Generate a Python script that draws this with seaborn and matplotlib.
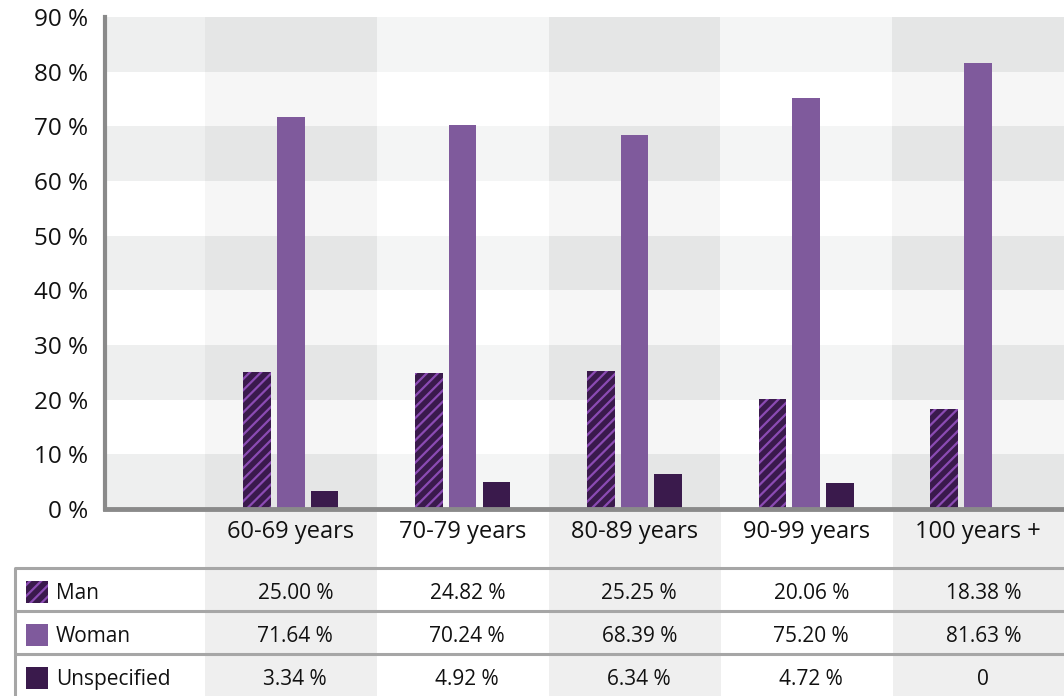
import matplotlib
matplotlib.use("Agg")
import matplotlib.pyplot as plt
import seaborn as sns
import pandas as pd
import numpy as np

# ---- data ---------------------------------------------------------------
age_groups = ["60-69 years", "70-79 years", "80-89 years", "90-99 years", "100 years +"]
genders = ["Man", "Woman", "Unspecified"]
man = [25.00, 24.82, 25.25, 20.06, 18.38]
woman = [71.64, 70.24, 68.39, 75.20, 81.63]
unspecified = [3.34, 4.92, 6.34, 4.72, 0.0]
y_ticks = [0, 10, 20, 30, 40, 50, 60, 70, 80, 90]

colors = {"Man": "#3a1a4c", "Woman": "#7f5a9c", "Unspecified": "#3a1a4c"}
hatch_color = "#8b4bb3"
axis_grey = "#8a8a8a"

df = pd.DataFrame({
    "age": np.repeat(age_groups, len(genders)),
    "gender": genders * len(age_groups),
    "share": [v for trio in zip(man, woman, unspecified) for v in trio],
})

sns.set_theme(style="white")
plt.rcParams["font.family"] = ["Open Sans", "DejaVu Sans"]
plt.rcParams["hatch.linewidth"] = 1.6

W, H = 1064, 696
fig = plt.figure(figsize=(W / 100, H / 100), dpi=100)
fig.patch.set_facecolor("white")

# category columns are 172 px wide; first column starts at x=205 px
col_px = 172.0
x0_px = 205.0
def px_to_x(px):
    return -0.5 + (px - x0_px) / col_px

ax_left, ax_right = 105, 1063
ax_top, ax_bottom = 17, 509

# ---- lower strip: category labels and the value table ------------------
low = fig.add_axes([0, 0, 1, 1 - ax_bottom / H], zorder=0)
low.set_xlim(px_to_x(0), px_to_x(W))
low.set_ylim(H, ax_bottom)
low.axis("off")
for i in range(len(age_groups)):
    if i % 2 == 0:
        low.axvspan(i - 0.5, i + 0.5, color="#efefef", lw=0, zorder=0)

row_tops = [568, 611, 654]
table_left = px_to_x(15)
for yy in row_tops:
    low.plot([table_left, px_to_x(W)], [yy, yy], color="#a6a6a6", lw=2.2,
             solid_capstyle="butt", zorder=2)
low.plot([table_left, table_left], [row_tops[0], H], color="#a6a6a6", lw=2.2, zorder=2)

series = [man, woman, unspecified]
for r, (name, vals) in enumerate(zip(genders, series)):
    yc = row_tops[r] + 25
    sw = plt.Rectangle((px_to_x(26), yc - 12), 22 / col_px, 22,
                       facecolor=colors[name], edgecolor=hatch_color if r == 0 else colors[name],
                       lw=0, hatch="///" if r == 0 else None, zorder=3)
    low.add_patch(sw)
    low.text(px_to_x(56), yc + 1, name, ha="left", va="center", fontsize=15, color="#111111", zorder=3)
    for i, v in enumerate(vals):
        txt = f"{v:.2f} %" if v else "0"
        low.text(i + 0.025, yc + 1, txt, ha="center", va="center", fontsize=15,
                 color="#111111", zorder=3)

# ---- main bar chart -----------------------------------------------------
ax = fig.add_axes([ax_left / W, 1 - ax_bottom / H, (W - ax_left) / W,
                   (ax_bottom - ax_top) / H], zorder=1)
ax.set_facecolor("none")

sns.barplot(data=df, x="age", y="share", hue="gender", hue_order=genders,
            order=age_groups, palette=colors, width=0.59, gap=0.18,
            saturation=1, legend=False, linewidth=0, ax=ax, zorder=3)

for cont in ax.containers:
    for bar in cont:
        bar.set_linewidth(0)
for bar in ax.containers[0]:
    bar.set_edgecolor(hatch_color)
    bar.set_hatch("///")

ax.set_xlim(px_to_x(ax_left), px_to_x(W))
ax.set_ylim(0, 90)

# background bands and column shading
for lo in range(0, 90, 20):
    ax.axhspan(lo, lo + 10, color="#eeefef", lw=0, zorder=0)
for i in range(len(age_groups)):
    if i % 2 == 0:
        ax.axvspan(i - 0.5, i + 0.5, color="black", alpha=0.035, lw=0, zorder=1)
    else:
        ax.axvspan(i - 0.5, i + 0.5, color="white", alpha=0.4, lw=0, zorder=1)

ax.set_yticks(y_ticks)
ax.set_yticklabels([f"{t} %" for t in y_ticks])
ax.set_xlabel("")
ax.set_ylabel("")
ax.tick_params(axis="y", length=0, pad=12, labelsize=17.5, labelcolor="#111111")
ax.tick_params(axis="x", which="major", length=0, pad=8, labelsize=17, labelcolor="#111111")
ax.set_xticks([i + 0.5 for i in range(len(age_groups))], minor=True)
ax.tick_params(axis="x", which="minor", direction="in", length=9, width=3, color=axis_grey)

for side in ["top", "right"]:
    ax.spines[side].set_visible(False)
ax.spines["left"].set_color(axis_grey)
ax.spines["left"].set_linewidth(3)
ax.spines["bottom"].set_color(axis_grey)
ax.spines["bottom"].set_linewidth(3.5)
ax.spines["left"].set_zorder(5)
ax.spines["bottom"].set_zorder(5)

fig.savefig("out.png", dpi=100, facecolor="white")
